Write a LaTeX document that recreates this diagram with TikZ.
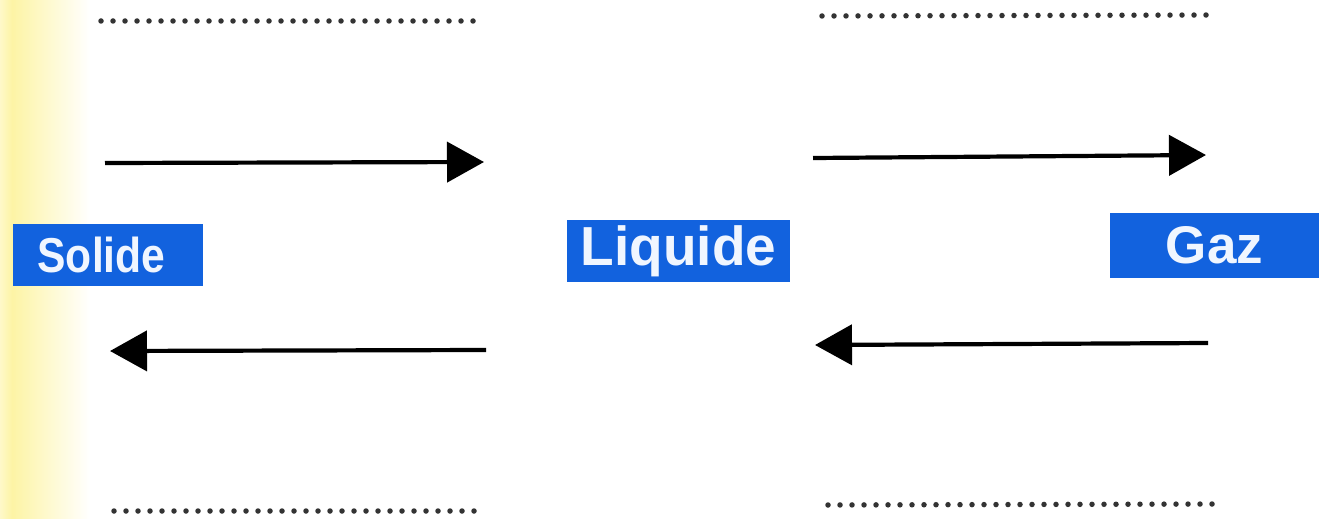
\documentclass[tikz,border=0pt]{standalone}
\usepackage{fontspec}
\setmainfont{Liberation Sans}
\usetikzlibrary{arrows.meta}
\definecolor{boxblue}{RGB}{18,98,222}
\definecolor{paleyellow}{RGB}{253,244,165}
\definecolor{txtwhite}{RGB}{240,246,255}
\tikzset{
  statebox/.style={fill=boxblue, text=txtwhite, inner sep=0pt, font=\bfseries},
  arr/.style={line width=4.2pt, -{Triangle[length=37pt,width=40pt]}},
  dots/.style={line width=5.5pt, line cap=round, dash pattern=on 0pt off 12pt, black!80}
}
\begin{document}
\begin{tikzpicture}[x=1pt,y=-1pt]
\useasboundingbox (0,0) rectangle (1319,519);
\fill[white] (0,0) rectangle (1319,519);
\shade[left color=paleyellow!60!white, right color=paleyellow] (0,0) rectangle (12,519);
\shade[left color=paleyellow, right color=white] (12,0) rectangle (90,519);
% state boxes
\node[statebox, minimum width=190pt, minimum height=62pt, font=\bfseries\fontsize{49}{54}\selectfont] (sol) at (107.5,255) {\scalebox{0.87}[1]{Solide}\hspace*{12pt}};
\node[statebox, minimum width=223pt, minimum height=62pt, font=\bfseries\fontsize{55}{60}\selectfont] (liq) at (678.5,251) {Liquide};
\node[statebox, minimum width=209pt, minimum height=65pt, font=\bfseries\fontsize{53}{58}\selectfont] (gaz) at (1214.5,245.5) {Gaz};
% arrow end points
\coordinate (a1s) at (105,163);
\coordinate (a1e) at (484,162);
\coordinate (a2s) at (813,158);
\coordinate (a2e) at (1206,155);
\coordinate (b1s) at (486,350);
\coordinate (b1e) at (110,351);
\coordinate (b2s) at (1208,343);
\coordinate (b2e) at (815,345);
\draw[arr] (a1s) -- (a1e);
\draw[arr] (a2s) -- (a2e);
\draw[arr] (b1s) -- (b1e);
\draw[arr] (b2s) -- (b2e);
% dotted answer lines
\coordinate (d1s) at (101,21);
\coordinate (d1e) at (473,21);
\coordinate (d2s) at (822,16);
\coordinate (d2e) at (1207,15);
\coordinate (d3s) at (114,511);
\coordinate (d3e) at (478,511);
\coordinate (d4s) at (828,505);
\coordinate (d4e) at (1213,504);
\draw[dots] (d1s) -- (d1e);
\draw[dots] (d2s) -- (d2e);
\draw[dots] (d3s) -- (d3e);
\draw[dots] (d4s) -- (d4e);
\end{tikzpicture}
\end{document}
